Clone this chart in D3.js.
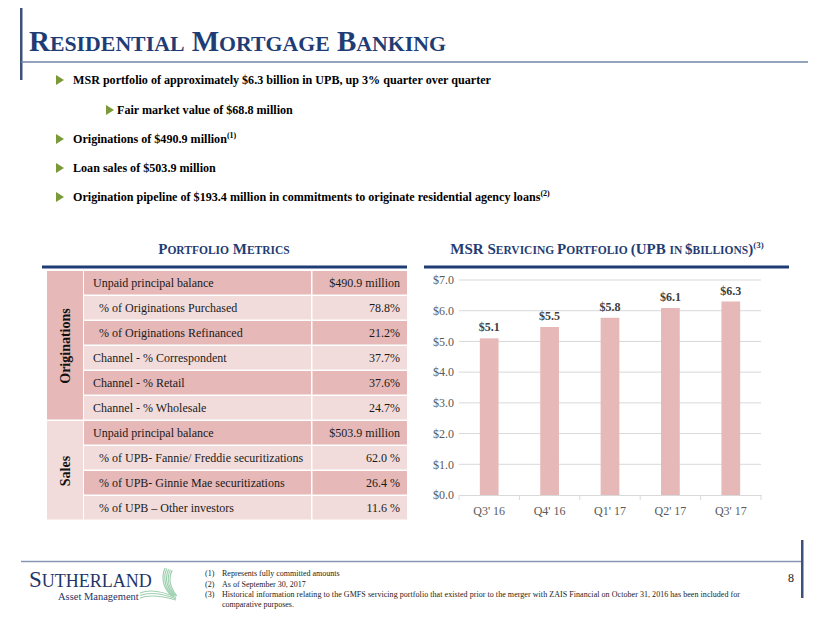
<!DOCTYPE html>
<html><head><meta charset="utf-8">
<script src="https://cdn.jsdelivr.net/npm/d3@7"></script>
<style>
html,body{margin:0;padding:0;background:#fff;}
svg text{font-family:"Liberation Serif","Times New Roman",serif;}
</style></head>
<body><svg id="c" width="830" height="623"></svg>
<script>
// ---- data ----
const quarters = ["Q3' 16","Q4' 16","Q1' 17","Q2' 17","Q3' 17"];
const upbBillions = [5.1, 5.47, 5.77, 6.09, 6.3];
const yTicks = [0,1,2,3,4,5,6,7];

const originationLabels = ["Unpaid principal balance","% of Originations Purchased","% of Originations Refinanced","Channel - % Correspondent","Channel - % Retail","Channel - % Wholesale"];
const originationValues = ["$490.9 million","78.8%","21.2%","37.7%","37.6%","24.7%"];
const originationIndent = [0,1,1,0,0,0];
const salesLabels = ["Unpaid principal balance","% of UPB- Fannie/ Freddie securitizations","% of UPB- Ginnie Mae securitizations","% of UPB \u2013 Other investors"];
const salesValues = ["$503.9 million","62.0 %","26.4 %","11.6 %"];
const salesIndent = [0,1,1,1];

const bullets = [
  {level:0, text:"MSR portfolio of approximately $6.3 billion in UPB, up 3% quarter over quarter", sup:""},
  {level:1, text:"Fair market value of $68.8 million", sup:""},
  {level:0, text:"Originations of $490.9 million", sup:"(1)"},
  {level:0, text:"Loan sales of $503.9 million", sup:""},
  {level:0, text:"Origination pipeline of $193.4 million in commitments to originate residential agency loans", sup:"(2)"}
];
const footnotes = [
  ["(1)","Represents fully committed amounts"],
  ["(2)","As of September 30, 2017"],
  ["(3)","Historical information relating to the GMFS servicing portfolio that existed prior to the merger with ZAIS Financial on October 31, 2016 has been included for"],
  ["","comparative purposes."]
];

const NAVY = "#1f3d74", DARK = "#e6b8b7", LIGHT = "#f2dcdb", GREEN = "#7a9a3a";
const svg = d3.select("#c");
svg.append("rect").attr("width",830).attr("height",623).attr("fill","#fff");

// ---- title ----
svg.append("rect").attr("x",20).attr("y",8).attr("width",2.5).attr("height",72).attr("fill","#3c5279");
svg.append("line").attr("x1",21).attr("x2",808).attr("y1",62).attr("y2",62).attr("stroke","#7185a6").attr("stroke-width",1.5);
function smallCaps(sel, words, big, small){
  words.forEach((w,i)=>{
    sel.append("tspan").attr("font-size",big).text((i?" ":"")+w[0]);
    sel.append("tspan").attr("font-size",small).text(w.slice(1).toUpperCase());
  });
}
const title = svg.append("text").attr("x",29).attr("y",51).attr("fill",NAVY).attr("font-weight","bold");
smallCaps(title, ["Residential","Mortgage","Banking"], 29, 21.8);

// ---- bullets ----
const bY = [80,110,139,168,197];
bullets.forEach((b,i)=>{
  const tx = b.level ? 106 : 56;
  const ox = b.level ? 117 : 73;
  svg.append("path").attr("d",`M${tx},${bY[i]-5}L${tx+8},${bY[i]}L${tx},${bY[i]+5}Z`).attr("fill",GREEN);
  const t = svg.append("text").attr("x",ox).attr("y",bY[i]+4).attr("font-size",12.1).attr("font-weight","bold").attr("fill","#000").text(b.text);
  if(b.sup) t.append("tspan").attr("font-size",8).attr("dy",-5).text(b.sup);
});

// ---- portfolio metrics table ----
const ph = svg.append("text").attr("x",224).attr("y",254).attr("text-anchor","middle").attr("fill",NAVY).attr("font-weight","bold");
smallCaps(ph, ["Portfolio","Metrics"], 15, 11.5);
svg.append("rect").attr("x",42).attr("y",265.5).attr("width",365).attr("height",3).attr("fill",NAVY);

const rows = originationLabels.map((l,i)=>({label:l,value:originationValues[i],indent:originationIndent[i]}))
  .concat(salesLabels.map((l,i)=>({label:l,value:salesValues[i],indent:salesIndent[i]})));
const rowY = d3.scaleBand().domain(d3.range(rows.length)).range([271,521]).paddingInner(0);
const rh = rowY.bandwidth();
const tbl = svg.append("g");
rows.forEach((r,i)=>{
  const fill = i%2===0 ? DARK : LIGHT;
  const y = rowY(i);
  tbl.append("rect").attr("x",84).attr("y",y).attr("width",227).attr("height",rh-1.5).attr("fill",fill);
  tbl.append("rect").attr("x",312.5).attr("y",y).attr("width",94.5).attr("height",rh-1.5).attr("fill",fill);
  tbl.append("text").attr("x",r.indent?99:93).attr("y",y+rh/2+3.5).attr("font-size",12).attr("fill","#1a1a1a").text(r.label);
  tbl.append("text").attr("x",400).attr("y",y+rh/2+3.5).attr("text-anchor","end").attr("font-size",12).attr("fill","#1a1a1a").text(r.value);
});
const oTop = rowY(0), oBot = rowY(originationLabels.length), sBot = rowY(rows.length-1)+rh;
tbl.append("rect").attr("x",47).attr("y",oTop).attr("width",36).attr("height",oBot-oTop-1.5).attr("fill",DARK);
tbl.append("rect").attr("x",47).attr("y",oBot).attr("width",36).attr("height",sBot-oBot-1.5).attr("fill",LIGHT);
tbl.append("text").attr("transform",`translate(70,${(oTop+oBot)/2}) rotate(-90)`).attr("text-anchor","middle")
  .attr("font-size",14).attr("font-weight","bold").attr("fill","#111").text("Originations");
tbl.append("text").attr("transform",`translate(70,${(oBot+sBot)/2}) rotate(-90)`).attr("text-anchor","middle")
  .attr("font-size",14).attr("font-weight","bold").attr("fill","#111").text("Sales");

// ---- MSR chart ----
const ch = svg.append("text").attr("x",607).attr("y",254).attr("text-anchor","middle").attr("fill",NAVY).attr("font-weight","bold");
[["MSR S",15],["ERVICING ",11.5],["P",15],["ORTFOLIO ",11.5],["(UPB ",15],["IN ",11.5],["$",15],["BILLIONS",11.5],[")",15]]
  .forEach(p=>ch.append("tspan").attr("font-size",p[1]).text(p[0]));
ch.append("tspan").attr("font-size",9).attr("dy",-6).text("(3)");
svg.append("rect").attr("x",424).attr("y",265.5).attr("width",365).attr("height",3).attr("fill",NAVY);

const x = d3.scaleBand().domain(quarters).range([459,761]).paddingInner(0.69).paddingOuter(0.345);
const y = d3.scaleLinear().domain([0,7]).range([495,280]);
const g = svg.append("g");
g.selectAll("line.grid").data(yTicks.slice(1)).join("line").attr("class","grid")
  .attr("x1",459).attr("x2",761).attr("y1",d=>y(d)).attr("y2",d=>y(d)).attr("stroke","#d9d9d9").attr("stroke-width",1);
const yAxis = g.append("g").attr("transform","translate(459,0)")
  .call(d3.axisLeft(y).tickValues(yTicks).tickSize(0).tickPadding(5).tickFormat(d=>"$"+d3.format(".1f")(d)));
yAxis.select(".domain").remove();
yAxis.selectAll("text").attr("font-size",12).attr("fill","#595959").attr("font-family","Liberation Serif, serif");
g.selectAll("rect.bar").data(upbBillions).join("rect").attr("class","bar")
  .attr("x",(d,i)=>x(quarters[i])).attr("width",x.bandwidth())
  .attr("y",d=>y(d)).attr("height",d=>y(0)-y(d)).attr("fill",DARK);
g.selectAll("text.lbl").data(upbBillions).join("text").attr("class","lbl")
  .attr("x",(d,i)=>x(quarters[i])+x.bandwidth()/2).attr("y",d=>y(d)-7)
  .attr("text-anchor","middle").attr("font-size",12).attr("font-weight","bold").attr("fill","#404040")
  .text(d=>"$"+d3.format(".1f")(d));
const xAxis = g.append("g").attr("transform","translate(0,495)")
  .call(d3.axisBottom(x).tickSize(0).tickPadding(11));
xAxis.select(".domain").attr("stroke","#d9d9d9");
xAxis.selectAll("text").attr("font-size",12).attr("fill","#595959").attr("font-family","Liberation Serif, serif");
g.selectAll("line.ctick").data(d3.range(quarters.length+1)).join("line").attr("class","ctick")
  .attr("x1",d=>459+d*x.step()).attr("x2",d=>459+d*x.step())
  .attr("y1",495).attr("y2",500).attr("stroke","#d9d9d9");

// ---- footer ----
svg.append("line").attr("x1",21).attr("x2",802).attr("y1",561.5).attr("y2",561.5).attr("stroke","#8797b3").attr("stroke-width",1.5);
svg.append("rect").attr("x",801).attr("y",540).attr("width",2.5).attr("height",58).attr("fill","#3c5279");
svg.append("text").attr("x",791).attr("y",582).attr("text-anchor","middle").attr("font-size",12).attr("fill","#222").text("8");
const logo = svg.append("text").attr("x",29).attr("y",587).attr("fill","#1f3567");
logo.append("tspan").attr("font-size",23).text("S");
logo.append("tspan").attr("font-size",18).text("UTHERLAND");
svg.append("text").attr("x",58).attr("y",600).attr("font-size",10.5).attr("fill","#1f3567").text("Asset Management");
const sw = svg.append("g").attr("fill","none").attr("stroke","#9fcfb0").attr("stroke-width",1.2);
[0,3,6,9,12].forEach(o=>{
  sw.append("path").attr("d",`M${165+o*0.6},${568+o*0.2} C${160+o*0.6},580 ${165+o*0.6},590 ${172+o*0.4},596`);
});
[0,2.5,5].forEach(o=>{
  sw.append("path").attr("d",`M140,${598-o} C150,${594-o} 162,${596-o} 176,${600-o*0.5}`);
});
const fY = [573,583.5,594,604];
footnotes.forEach((f,i)=>{
  if(f[0]) svg.append("text").attr("x",205).attr("y",fY[i]+3).attr("font-size",8).attr("fill","#222").text(f[0]);
  const t = svg.append("text").attr("x",222).attr("y",fY[i]+3).attr("font-size",8).attr("fill","#222").text(f[1]);
  if(i===2) t.attr("textLength",518).attr("lengthAdjust","spacing");
});
</script></body></html>
